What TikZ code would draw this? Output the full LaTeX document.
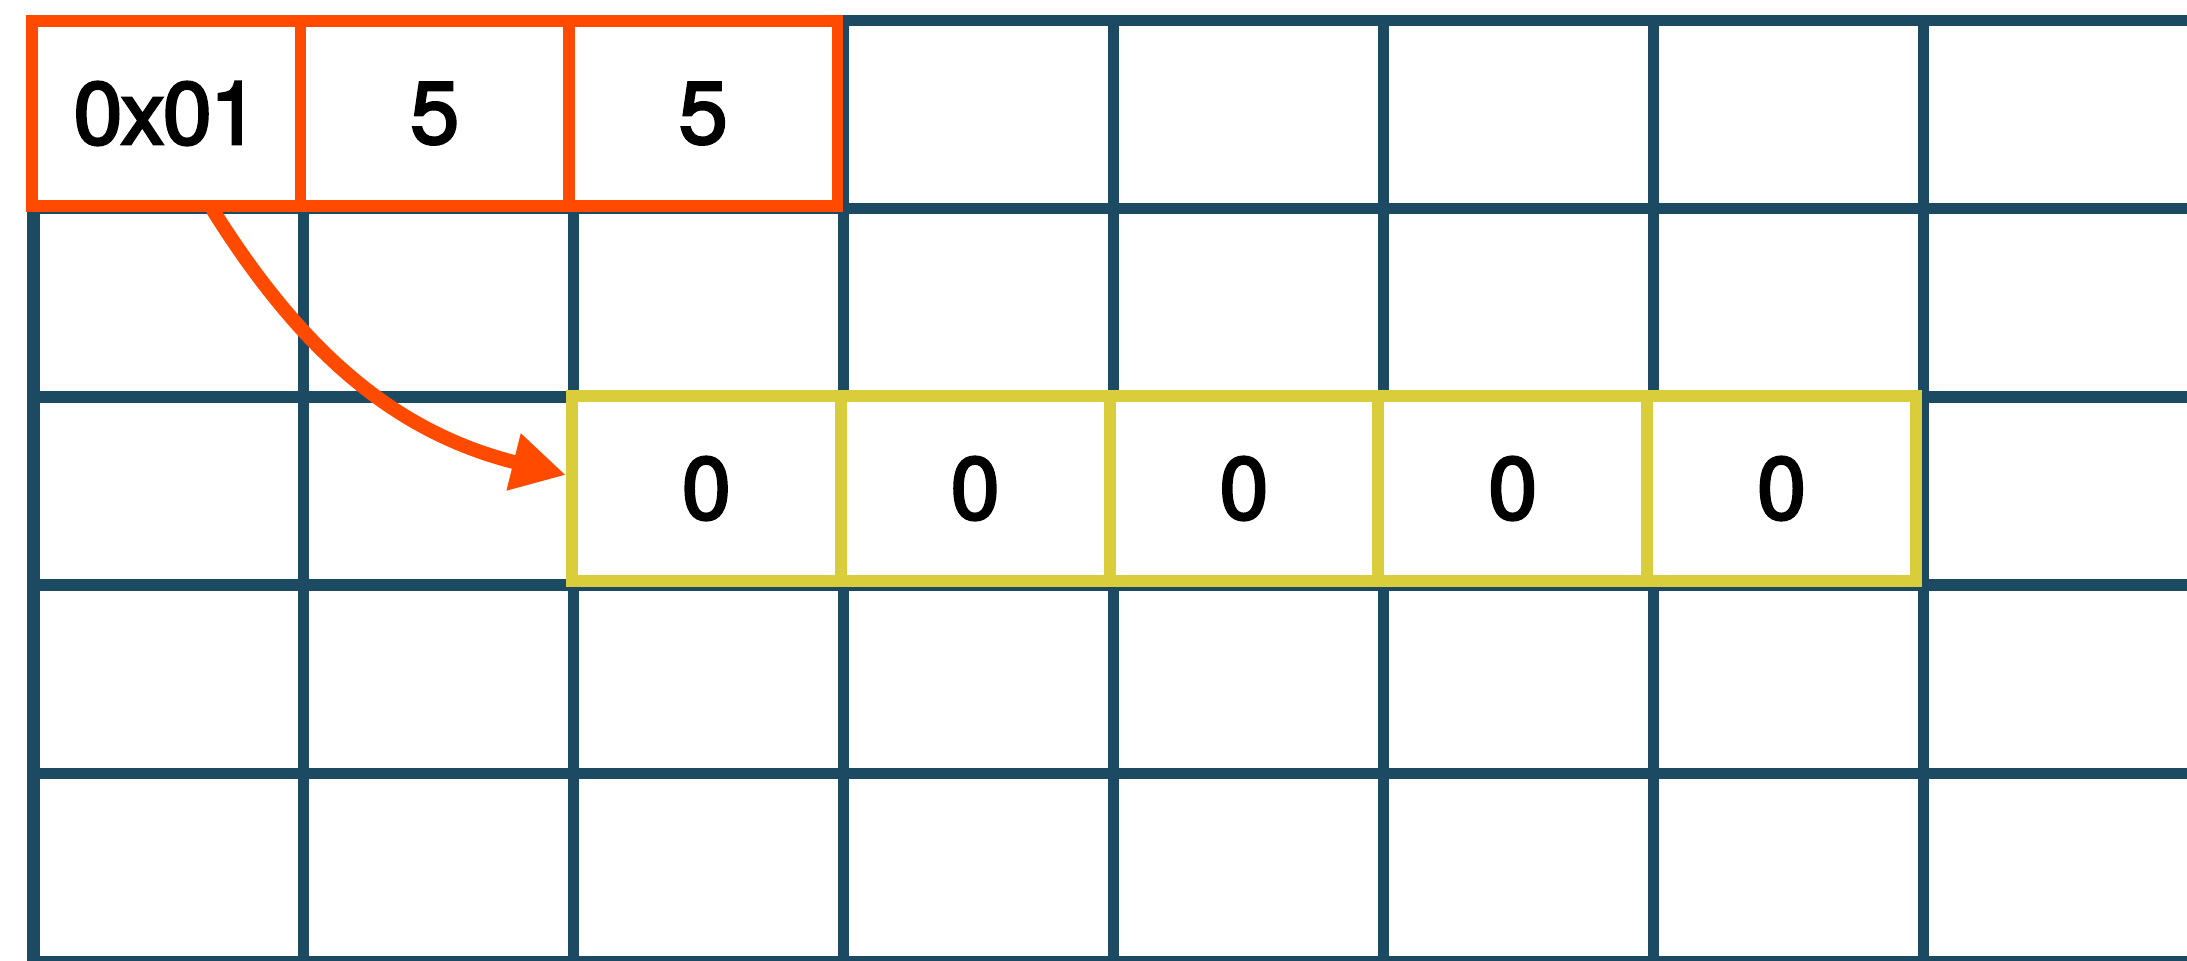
\documentclass[tikz,border=0pt]{standalone}
\usepackage{fontspec}
\setmainfont{TeX Gyre Heros}[LetterSpace=-2, FakeBold=3]
\usetikzlibrary{positioning, arrows.meta}
\definecolor{gridblue}{HTML}{1D4A63}
\definecolor{ptrorange}{HTML}{FF4A00}
\definecolor{slotyellow}{HTML}{D9CD3C}

\begin{document}
\begin{tikzpicture}[
  gridline/.style={gridblue, line width=3.2pt},
  cell/.style={draw, fill=white, line width=3.4pt, outer sep=0pt, inner sep=0pt,
    minimum width=2.685cm, minimum height=1.85cm,
    font=\fontsize{25}{30}\selectfont},
  hdr/.style={cell, draw=ptrorange},
  slot/.style={cell, draw=slotyellow, minimum width=2.688cm},
  arr/.style={ptrorange, line width=4pt,
    -{Triangle[length=5.4mm, width=5.5mm]}}
]
\useasboundingbox (0,0) rectangle (21.87,-9.6);

% background grid
\foreach \i in {0,...,7}
  \draw[gridline] (0.335+2.7*\i,-0.15) -- (0.335+2.7*\i,-9.7);
\draw[gridline, line width=3.8pt] (0.335,-0.15) -- (0.335,-9.7);
\foreach \j in {0,...,5}
  \draw[gridline] (0.27,-0.205-1.882*\j) -- (22,-0.205-1.882*\j);

% header cells
\node[hdr] (hdrtag) at (1.6625,-1.135) {0x01};
\node[hdr, right=0pt of hdrtag] (hdrlen) {5};
\node[hdr, right=0pt of hdrlen] (hdrcap) {5};

% allocated slots
\node[slot] (slota) at (7.064,-4.885) {0};
\node[slot, right=0pt of slota] (slotb) {0};
\node[slot, right=0pt of slotb] (slotc) {0};
\node[slot, right=0pt of slotc] (slotd) {0};
\node[slot, right=0pt of slotd] (slote) {0};

\draw[arr] ([xshift=4.6mm, yshift=-0.3mm]hdrtag.south)
  to[out=-58, in=166] ([xshift=-0.6mm, yshift=1.35mm]slota.west);
\end{tikzpicture}
\end{document}
